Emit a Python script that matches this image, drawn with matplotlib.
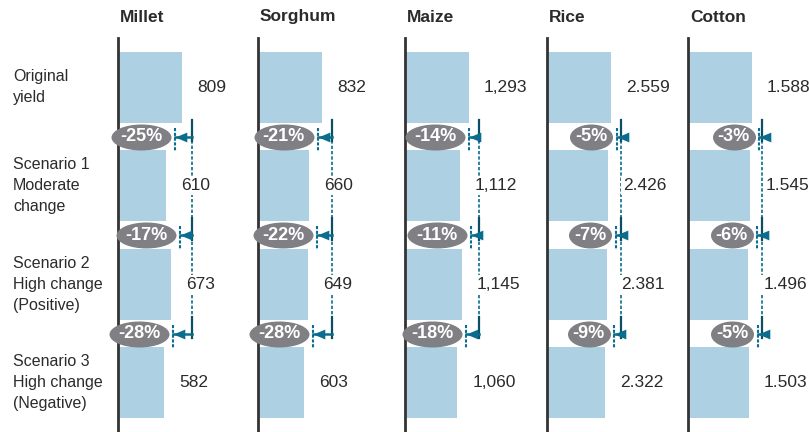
import numpy as np
import matplotlib
matplotlib.use("Agg")
import matplotlib.pyplot as plt
import matplotlib.transforms as mtransforms
from matplotlib.path import Path

plt.rcParams["font.family"] = ["Liberation Sans", "DejaVu Sans"]

# -------------------------------
# Dados
# -------------------------------
crops = ["Millet", "Sorghum", "Maize", "Rice", "Cotton"]
scenarios = ["Original\nyield",
             "Scenario 1\nModerate\nchange",
             "Scenario 2\nHigh change\n(Positive)",
             "Scenario 3\nHigh change\n(Negative)"]
millet = [809, 610, 673, 582]
sorghum = [832, 660, 649, 603]
maize = [1293, 1112, 1145, 1060]
rice = [2559, 2426, 2381, 2322]
cotton = [1588, 1545, 1496, 1503]
yields = [millet, sorghum, maize, rice, cotton]
thousand_sep = [",", ",", ",", ".", "."]
changes = [[-25, -17, -28],
           [-21, -22, -28],
           [-14, -11, -18],
           [-5, -7, -9],
           [-3, -6, -5]]

# -------------------------------
# Estilo
# -------------------------------
BAR = "#add1e2"
TEAL = "#0b6d8d"
TEAL_D = "#0a4f66"
GRAY = "#808084"
TXT = "#2b2b2b"

W, H = 809, 432
ax_left_px = [118, 258, 405, 547, 688]
ax_w_px = 120
top_px = 38
bar_px = 64  # largura (px) da barra original


def ellipse_marker(w, h):
    c = Path.unit_circle()
    return Path(c.vertices * np.array([w / 2, h / 2]), c.codes)


head = Path([(0, 0), (1.2, 0.5), (1.2, -0.5), (0, 0)],
            [Path.MOVETO, Path.LINETO, Path.LINETO, Path.CLOSEPOLY])

fig = plt.figure(figsize=(W / 100, H / 100), dpi=100)

axes = []
for k, crop in enumerate(crops):
    lx = ax_left_px[k]
    ax = fig.add_axes([lx / W, 0, ax_w_px / W, (H - top_px) / H])
    ax.patch.set_visible(False)
    axes.append(ax)
    vals = np.array(yields[k])
    px = vals[0] / bar_px  # unidades de dados por pixel
    ax.set_xlim(0, ax_w_px * px)
    ax.set_ylim(3.5, -0.5)
    rows = np.arange(len(vals))
    ax.barh(rows, vals, height=0.72, color=BAR, zorder=1)

    for s in ["top", "right", "bottom"]:
        ax.spines[s].set_visible(False)
    ax.spines["left"].set_color("#333333")
    ax.spines["left"].set_linewidth(2)
    ax.set_xticks([])
    ax.set_yticks([])

    # rótulos dos valores
    for i, v in enumerate(vals):
        lab = f"{v:,}".replace(",", thousand_sep[k])
        ax.text(v + 15 * px, i, lab, ha="left", va="center", fontsize=12.5,
                color=TXT, zorder=4, clip_on=False,
                bbox=dict(facecolor="white", edgecolor="none", pad=1.5))

    # linha de referência e setas
    x_ref = vals[0] + 10 * px
    ax.plot([x_ref, x_ref], [0.32, 2.56], color=TEAL, lw=1.2,
            ls=(0, (2, 1.2)), zorder=3)
    for i in range(1, len(vals)):
        g = i - 0.5
        x_tgt = vals[i] + 9 * px
        ax.plot([x_ref, x_ref], [g - 0.17, g + 0.05], color=TEAL_D, lw=1.6, zorder=3)
        ax.plot([x_tgt, x_tgt], [g - 0.09, g + 0.15], color=TEAL, lw=1.5,
                ls=(0, (1.5, 0.8)), zorder=3)
        ax.plot([x_tgt, x_ref], [g, g], color=TEAL, lw=1.8, zorder=3)
        ax.plot(x_tgt, g, marker=head, ms=17, color=TEAL, mew=0, zorder=3)

        lab = f"{changes[k][i - 1]}%"
        w = 60 if len(lab) == 4 else 43
        cx = x_tgt - (4 + w / 2) * px
        ax.plot(cx, g, marker=ellipse_marker(w, 26), ms=w * 0.72, color=GRAY,
                mew=0, zorder=6, clip_on=False)
        ax.text(cx, g, lab, ha="center", va="center", color="white",
                fontweight="bold", fontsize=13, zorder=7)

    fig.text((lx + 2) / W, 1 - 17 / H, crop, ha="left", va="center",
             fontsize=12.5, fontweight="bold", color=TXT)

# rótulos dos cenários
trans = mtransforms.blended_transform_factory(fig.transFigure, axes[0].transData)
for i, s in enumerate(scenarios):
    axes[0].text(13 / W, i, s, transform=trans, ha="left", va="center",
                 fontsize=11.5, linespacing=1.5, color=TXT, clip_on=False)

fig.savefig("out.png", dpi=100)
